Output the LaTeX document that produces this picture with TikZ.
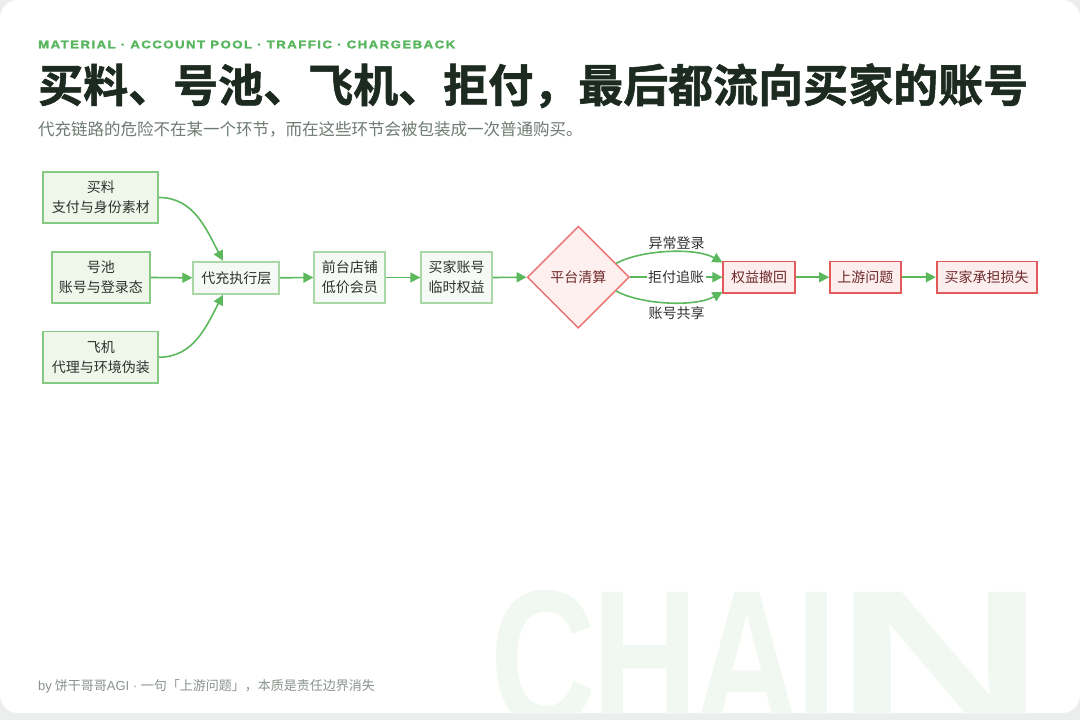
\documentclass[tikz,border=0pt]{standalone}
\usepackage{fontspec}
\usepackage{graphicx}
\usetikzlibrary{arrows.meta,shapes.geometric}
\setmainfont{Noto Sans CJK SC}[BoldFont={Noto Sans CJK SC Bold}]
\newfontfamily\titlefont{Noto Sans CJK SC Bold}[FakeBold=1.2]
\newfontfamily\hdrfont{Liberation Sans Bold}[LetterSpace=11, FakeBold=2]
\newfontfamily\chainfont{Liberation Sans Bold}
\newfontfamily\latinreg{Liberation Sans}
\newcommand\nfnt{\fontsize{14}{20}\selectfont}
\definecolor{bggray}{HTML}{ECEEEE}
\definecolor{arrowgreen}{HTML}{5CB85C}
\definecolor{hdrgreen}{HTML}{58B65E}
\definecolor{titlec}{HTML}{1C2A1F}
\definecolor{subc}{HTML}{6E7B72}
\definecolor{footc}{HTML}{8A948D}
\definecolor{srcfill}{HTML}{EEF7EA}
\definecolor{srcborder}{HTML}{86C983}
\definecolor{midfill}{HTML}{F6F9F6}
\definecolor{midborder}{HTML}{A8D8A5}
\definecolor{redfill}{HTML}{FDEEEE}
\definecolor{redborder}{HTML}{E35A5A}
\definecolor{diafill}{HTML}{FFF0F0}
\definecolor{diaborder}{HTML}{EB7070}
\definecolor{redtext}{HTML}{6E2A2A}
\definecolor{nodetext}{HTML}{2E322F}
\definecolor{chainc}{HTML}{F1F8F1}
\begin{document}
\begin{tikzpicture}[x=1pt,y=-1pt,
  src/.style={draw=srcborder, fill=srcfill, line width=1.8pt, inner sep=0, align=center, font=\nfnt, text=nodetext},
  mid/.style={draw=midborder, fill=midfill, line width=1.8pt, inner sep=0, align=center, font=\nfnt, text=nodetext},
  redbox/.style={draw=redborder, fill=redfill, line width=1.8pt, inner sep=0, align=center, font=\nfnt, text=redtext, minimum height=31.6},
  dia/.style={diamond, draw=diaborder, fill=diafill, line width=1.4pt, inner sep=0, minimum width=102, minimum height=102, font=\nfnt, text=redtext},
  arr/.style={draw=arrowgreen, line width=1.6pt, -{Triangle[length=10pt,width=10pt]}},
  elabel/.style={font=\nfnt, text=nodetext, inner sep=1.5pt}
]
\useasboundingbox (0,0) rectangle (1080,720);
\fill[bggray] (0,0) rectangle (1080,720);
\fill[white, rounded corners=18pt] (0,0) rectangle (1080,713);
\begin{scope}
  \clip[rounded corners=18pt] (0,0) rectangle (1080,713);
  \node[anchor=base west, inner sep=0, text=chainc] (chain) at (490,726)
    {\chainfont\fontsize{195}{195}\selectfont\scalebox{0.75}[1]{C\kern-4.8pt H\kern-4.8pt A\kern-4.8pt I}\kern-2pt\scalebox{1.5}[1]{N}};
\end{scope}

% header texts
\node[anchor=base west, inner sep=0, text=hdrgreen] (hdr) at (38,48.3)
  {\resizebox{417pt}{7.7pt}{\hdrfont MATERIAL · ACCOUNT POOL · TRAFFIC · CHARGEBACK}};
\node[anchor=base west, inner sep=0, text=titlec, font=\titlefont\fontsize{45}{50}\selectfont] (title) at (38,102)
  {买料、号池、飞机、拒付，最后都流向买家的账号};
\node[anchor=base west, inner sep=0, text=subc, font=\fontsize{16.5}{20}\selectfont] (sub) at (38,135.8)
  {代充链路的危险不在某一个环节，而在这些环节会被包装成一次普通购买。};
\node[anchor=base west, inner sep=0, text=footc, font=\fontsize{13}{16}\selectfont] (foot) at (38,690.5)
  {{\latinreg by} 饼干哥哥{\latinreg AGI · }一句「上游问题」，本质是责任边界消失};

% nodes
\node[src, minimum width=115, minimum height=51.6] (ml) at (100.8,197.5) {买料\\支付与身份素材};
\node[src, minimum width=98.3, minimum height=51.6] (hc) at (100.8,277.5) {号池\\账号与登录态};
\node[src, minimum width=115, minimum height=51.6] (fj) at (100.8,357.2) {飞机\\代理与环境伪装};
\node[mid, minimum width=86, minimum height=32.3] (dc) at (236.3,277.8) {代充执行层};
\node[mid, minimum width=71, minimum height=51.6] (qt) at (349.8,277.5) {前台店铺\\低价会员};
\node[mid, minimum width=71, minimum height=51.6] (mj) at (456.7,277.5) {买家账号\\临时权益};
\node[dia] (pt) at (578.3,277.2) {平台清算};
\node[redbox, minimum width=71.7] (qy) at (759.2,277.2) {权益撤回};
\node[redbox, minimum width=70.7] (sy) at (865.4,277.2) {上游问题};
\node[redbox, minimum width=100] (ss) at (986.7,277.2) {买家承担损失};

% edges
\draw[arr] (ml.east) .. controls +(35,0) and +(-16,-30) .. ([xshift=-13.3pt]dc.north);
\draw[arr] (hc.east) -- (dc.west);
\draw[arr] (fj.east) .. controls +(35,0) and +(-16,30) .. ([xshift=-13.3pt]dc.south);
\draw[arr] (dc.east) -- (qt.west);
\draw[arr] (qt.east) -- (mj.west);
\draw[arr] (mj.east) -- (pt.west);
\draw[arr] (pt.20) .. controls (640,250) and (695,247) .. ([yshift=-2pt]qy.north west);
\draw[arr] (pt.east) -- node[elabel, fill=white] (l2) {拒付追账} (qy.west);
\draw[arr] (pt.-20) .. controls (640,304.5) and (695,307.5) .. ([yshift=2pt]qy.south west);
\node[elabel] (l1) at (676.7,243.3) {异常登录};
\node[elabel] (l3) at (676.7,313.3) {账号共享};
\draw[arr] (qy.east) -- (sy.west);
\draw[arr] (sy.east) -- (ss.west);
\end{tikzpicture}
\end{document}
